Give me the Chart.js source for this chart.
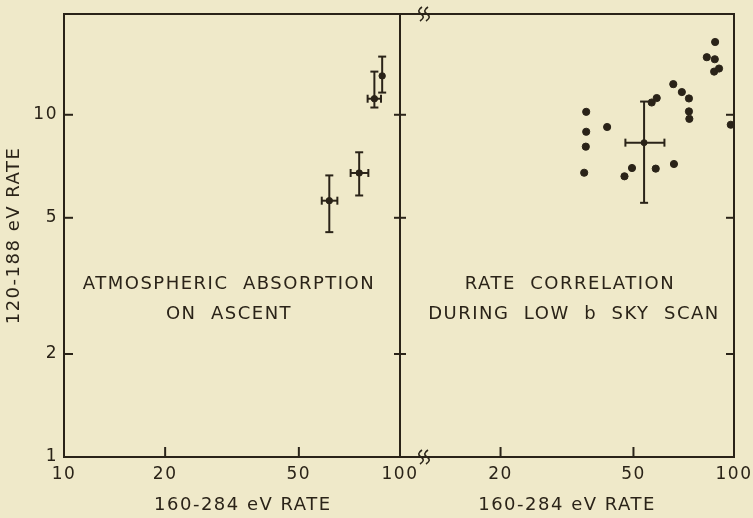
<!DOCTYPE html>
<html><head><meta charset="utf-8">
<script src="https://cdn.jsdelivr.net/npm/chart.js@4/dist/chart.umd.min.js"></script>
<style>
html,body{margin:0;padding:0;background:#efe9c9;overflow:hidden;}
#wrap{position:relative;width:753px;height:518px;overflow:hidden;background:#efe9c9;}
#c1{position:absolute;left:0;top:0;}
#c2{position:absolute;left:380px;top:0;}
</style></head><body>
<div id="wrap"><canvas id="c1" width="440" height="518"></canvas><canvas id="c2" width="420" height="518"></canvas></div>
<script>
// ---------- data ----------
const xTickLabelsLeft = [10, 20, 50, 100];
const xTickLabelsRight = [20, 50, 100];
const yTickLabels = [1, 2, 5, 10];

// Left panel: atmospheric absorption on ascent
const ascentX     = [61.6, 75.6, 83.9, 88.5];
const ascentY     = [5.61, 6.76, 11.14, 12.99];
const ascentXLow  = [58.5, 71.3, 80.1, null];
const ascentXHigh = [65.1, 80.5, 87.8, null];
const ascentYLow  = [4.54, 5.81, 10.5, 11.61];
const ascentYHigh = [6.65, 7.77, 13.37, 14.79];

// Right panel: rate correlation during low b sky scan
const scanX = [36.1, 36.1, 36.0, 35.6, 41.7, 47.0, 49.5, 56.7, 58.7, 58.3, 66.1, 65.8, 69.8, 73.3, 73.3, 73.5, 82.9, 87.6, 87.8, 87.2, 90.2, 97.8];
const scanY = [10.2, 8.92, 8.07, 6.77, 9.21, 6.61, 6.99, 10.86, 11.19, 6.96, 7.18, 12.29, 11.65, 11.16, 10.23, 9.73, 14.73, 14.53, 16.32, 13.37, 13.65, 9.35];
// representative error bar
const repX = [53.8], repY = [8.29];
const repXLow = [47.3], repXHigh = [61.9];
const repYLow = [5.53], repYHigh = [10.93];

// ---------- style ----------
const INK = '#2a2318';
const FAM = '"DejaVu Sans", sans-serif';
Chart.defaults.font.family = FAM;
Chart.defaults.color = INK;

const pts = (xs, ys) => xs.map((x, i) => ({x, y: ys[i]}));
const setTicks = vals => scale => { scale.ticks = vals.map(v => ({value: v})); };

function errPlugin(xs, ys, xLo, xHi, yLo, yHi) {
  return {
    id: 'errbars',
    afterDatasetsDraw(chart) {
      const {ctx, scales: {x, y}} = chart;
      ctx.save();
      ctx.strokeStyle = INK; ctx.lineWidth = 2;
      const ln = (a, b, c, d) => { ctx.beginPath(); ctx.moveTo(a, b); ctx.lineTo(c, d); ctx.stroke(); };
      for (let i = 0; i < xs.length; i++) {
        const px = x.getPixelForValue(xs[i]), py = y.getPixelForValue(ys[i]);
        if (yLo[i] != null) {
          const y1 = y.getPixelForValue(yLo[i]), y2 = y.getPixelForValue(yHi[i]);
          ln(px, y1, px, y2); ln(px - 4, y1, px + 4, y1); ln(px - 4, y2, px + 4, y2);
        }
        if (xLo[i] != null) {
          const x1 = x.getPixelForValue(xLo[i]), x2 = x.getPixelForValue(xHi[i]);
          ln(x1, py, x2, py); ln(x1, py - 4, x1, py + 4); ln(x2, py - 4, x2, py + 4);
        }
      }
      ctx.restore();
    }
  };
}

function framePlugin(cfg) {
  return {
    id: 'frame',
    beforeDraw(chart) { chart.ctx.letterSpacing = '1.5px'; },
    afterDraw(chart) {
      const {ctx, chartArea: a, scales: {x, y}} = chart;
      ctx.save();
      ctx.strokeStyle = INK; ctx.lineWidth = 2; ctx.lineCap = 'square';
      const ln = (p, q, r, s) => { ctx.beginPath(); ctx.moveTo(p, q); ctx.lineTo(r, s); ctx.stroke(); };
      ln(a.left, a.top, a.right, a.top);
      ln(a.left, a.bottom, a.right, a.bottom);
      ln(a.right, a.top, a.right, a.bottom);
      if (cfg.leftEdge) ln(a.left, a.top, a.left, a.bottom);
      ctx.lineCap = 'butt';
      for (const v of [2, 5, 10]) {
        const py = y.getPixelForValue(v);
        if (cfg.leftEdge) ln(a.left, py, a.left + 9, py);
        if (cfg.divider) ln(a.right - 6, py, a.right + 6, py);
        if (cfg.rightInner) ln(a.right - 8, py, a.right, py);
      }
      for (const v of [20, 50]) {
        const px = x.getPixelForValue(v);
        ln(px, a.bottom, px, a.bottom - 10);
      }
      if (cfg.breaks) {
        // axis break marks just right of the shared 100/10 edge
        ctx.lineWidth = 1.6;
        const wav = (bx, by) => {
          ctx.beginPath();
          ctx.moveTo(bx + 1, by - 7);
          ctx.quadraticCurveTo(bx - 5, by - 3, bx, by);
          ctx.quadraticCurveTo(bx + 5, by + 3, bx - 1, by + 7);
          ctx.stroke();
        };
        for (const by of [a.top, a.bottom]) { wav(a.left + 21, by); wav(a.left + 27, by); }
      }
      // annotation text
      ctx.fillStyle = INK;
      ctx.font = '18px ' + FAM;
      ctx.letterSpacing = '1.5px';
      ctx.textAlign = 'center'; ctx.textBaseline = 'middle';
      for (const t of cfg.texts) ctx.fillText(t.s, t.x, t.y);
      ctx.restore();
    }
  };
}

const tickFont = {size: 17, family: FAM};
const titleFont = {size: 18, family: FAM};
const fitX = s => { s.height = 61; s.paddingLeft = 0; s.paddingRight = 0; };

// ---------- left chart ----------
new Chart(document.getElementById('c1'), {
  type: 'scatter',
  data: {datasets: [{
    data: pts(ascentX, ascentY),
    backgroundColor: INK, borderColor: INK, pointRadius: 3.2, pointHoverRadius: 3.2
  }]},
  options: {
    responsive: false, devicePixelRatio: 1, animation: false,
    layout: {padding: {left: 0, top: 14, right: 40, bottom: 0}},
    plugins: {legend: {display: false}, tooltip: {enabled: false}},
    scales: {
      x: {
        type: 'logarithmic', min: 10, max: 100, bounds: 'data',
        afterBuildTicks: setTicks(xTickLabelsLeft),
        afterFit: fitX,
        grid: {display: false, drawTicks: false}, border: {display: false},
        ticks: {font: tickFont, color: INK, padding: 7, maxRotation: 0, autoSkip: false, callback: v => String(v)},
        title: {display: true, text: '   160-284 eV RATE', font: titleFont, color: INK, padding: {top: 0, bottom: 2}}
      },
      y: {
        type: 'logarithmic', min: 1, max: 19.7, bounds: 'data',
        afterBuildTicks: setTicks(yTickLabels),
        afterFit: s => { s.width = 64; s.paddingTop = 0; s.paddingBottom = 0; },
        grid: {display: false, drawTicks: false}, border: {display: false},
        ticks: {font: tickFont, color: INK, padding: 6, autoSkip: false, callback: v => String(v)},
        title: {display: true, text: '120-188 eV RATE', font: titleFont, color: INK, padding: {top: 4, bottom: 0}}
      }
    }
  },
  plugins: [
    errPlugin(ascentX, ascentY, ascentXLow, ascentXHigh, ascentYLow, ascentYHigh),
    framePlugin({leftEdge: true, divider: true, rightInner: false, breaks: false,
      texts: [{s: 'ATMOSPHERIC  ABSORPTION', x: 229, y: 284}, {s: 'ON  ASCENT', x: 229, y: 314}]})
  ]
});

// ---------- right chart ----------
new Chart(document.getElementById('c2'), {
  type: 'scatter',
  data: {datasets: [
    {data: pts(scanX, scanY), backgroundColor: INK, borderColor: INK, pointRadius: 3.6, pointHoverRadius: 3.6, clip: false},
    {data: pts(repX, repY), backgroundColor: INK, borderColor: INK, pointRadius: 3, pointHoverRadius: 3}
  ]},
  options: {
    responsive: false, devicePixelRatio: 1, animation: false,
    layout: {padding: {left: 20, top: 14, right: 66, bottom: 0}},
    plugins: {legend: {display: false}, tooltip: {enabled: false}},
    scales: {
      x: {
        type: 'logarithmic', min: 10, max: 100, bounds: 'data',
        afterBuildTicks: setTicks(xTickLabelsRight),
        afterFit: fitX,
        grid: {display: false, drawTicks: false}, border: {display: false},
        ticks: {font: tickFont, color: INK, padding: 7, maxRotation: 0, autoSkip: false, callback: v => String(v)},
        title: {display: true, text: '160-284 eV RATE', font: titleFont, color: INK, padding: {top: 0, bottom: 2}}
      },
      y: {
        type: 'logarithmic', min: 1, max: 19.7, bounds: 'data', display: false,
        afterBuildTicks: setTicks(yTickLabels)
      }
    }
  },
  plugins: [
    errPlugin(repX, repY, repXLow, repXHigh, repYLow, repYHigh),
    framePlugin({leftEdge: false, divider: false, rightInner: true, breaks: true,
      texts: [{s: 'RATE  CORRELATION', x: 190, y: 284}, {s: 'DURING  LOW  b  SKY  SCAN', x: 194, y: 314}]})
  ]
});
</script>
</body></html>
